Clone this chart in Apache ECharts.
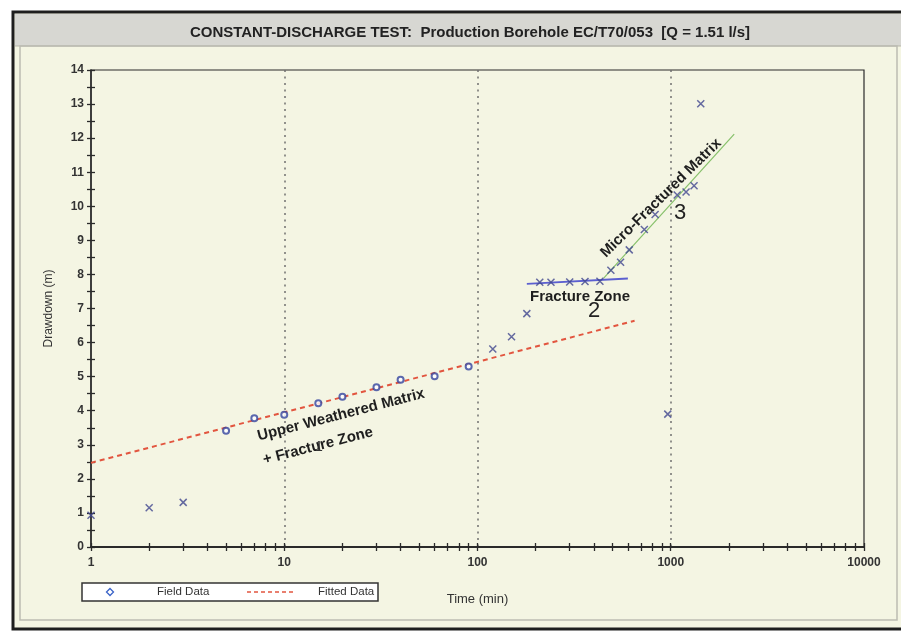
<!DOCTYPE html>
<html>
<head>
<meta charset="utf-8">
<title>Constant-discharge test</title>
<script src="https://cdn.jsdelivr.net/npm/echarts@6/dist/echarts.min.js"></script>
<style>
  html, body { margin: 0; padding: 0; background: #fff; }
  #chart { width: 901px; height: 639px; }
</style>
</head>
<body>
<div id="chart"></div>
<script>
// field data plotted as open circles (on the fitted line)
const circleTime = [5, 7, 10, 15, 20, 30, 40, 60, 90];
const circleDrawdown = [3.41, 3.78, 3.88, 4.22, 4.41, 4.69, 4.91, 5.01, 5.30];

// field data plotted as crosses
const crossTime = [1, 2, 3, 120, 150, 180, 210, 240, 300, 360, 430, 490, 550, 610, 730, 830, 965, 1080, 1200, 1320, 1430];
const crossDrawdown = [0.93, 1.15, 1.31, 5.81, 6.17, 6.85, 7.77, 7.77, 7.78, 7.79, 7.80, 8.12, 8.36, 8.72, 9.32, 9.76, 3.90, 10.33, 10.42, 10.60, 13.01];

// straight-line fits (end points)
const fittedTime = [1, 650];
const fittedDrawdown = [2.47, 6.64];
const fractureTime = [180, 600];
const fractureDrawdown = [7.72, 7.88];
const microTime = [450, 2130];
const microDrawdown = [7.89, 12.12];

// log axis ticks: 1..9 in every decade
const decades = [1, 10, 100, 1000];
const xTickValues = [];
decades.forEach(d => { for (let k = 1; k < 10; k++) xTickValues.push(d * k); });
xTickValues.push(10000);

const narrow = "'Liberation Sans Narrow', 'Arial Narrow', 'Liberation Sans', sans-serif";
const sans = "'Liberation Sans', Arial, sans-serif";
const ink = '#2a2a2a';

const toPairs = (xs, ys) => xs.map((x, i) => [x, ys[i]]);

const chart = echarts.init(document.getElementById('chart'));

const tickStyle = { color: ink, width: 1.3 };

// extra log axes that only carry the 2..9 minor ticks (outside and inside)
const tickAxis = inside => ({
  type: 'log', logBase: 10, min: 1, max: 10000, position: 'bottom',
  axisLine: { show: false },
  axisTick: { show: true, inside, length: 4, customValues: xTickValues, lineStyle: tickStyle },
  axisLabel: { show: false },
  splitLine: { show: false }
});

const centered = { textAlign: 'center', textVerticalAlign: 'middle', align: 'center', verticalAlign: 'middle' };
const leftMid = { textAlign: 'left', textVerticalAlign: 'middle', align: 'left', verticalAlign: 'middle' };

const option = {
  backgroundColor: '#fff',
  animation: false,
  title: {
    text: 'CONSTANT-DISCHARGE TEST:  Production Borehole EC/T70/053  [Q = 1.51 l/s]',
    left: 465,
    top: 20,
    textAlign: 'center',
    textStyle: { fontFamily: narrow, fontWeight: 'bold', fontSize: 15, color: '#222' }
  },
  legend: { show: false },
  grid: {
    left: 91, top: 70, width: 773, height: 477,
    show: true, borderColor: ink, borderWidth: 1.2, backgroundColor: 'transparent'
  },
  xAxis: [
    {
      type: 'log', logBase: 10, min: 1, max: 10000, position: 'bottom',
      axisLine: { lineStyle: { color: ink, width: 2 } },
      axisTick: { show: false },
      axisLabel: {
        fontFamily: narrow, fontWeight: 'bold', fontSize: 12, color: '#333', margin: 10,
        formatter: v => String(Math.round(v))
      },
      splitLine: { show: true, showMinLine: false, showMaxLine: false, lineStyle: { color: '#707070', type: [2, 4.5], width: 1.5 } },
      name: 'Time (min)', nameLocation: 'middle', nameGap: 46,
      nameTextStyle: { fontFamily: narrow, fontSize: 13, color: '#333' }
    },
    tickAxis(false),
    tickAxis(true)
  ],
  yAxis: [
    {
      type: 'value', min: 0, max: 14, interval: 1, position: 'left',
      axisLine: { show: true, lineStyle: { color: ink, width: 1.5 } },
      axisTick: { show: true, length: 4, lineStyle: tickStyle },
      minorTick: { show: true, splitNumber: 2, length: 4, lineStyle: tickStyle },
      axisLabel: { fontFamily: narrow, fontWeight: 'bold', fontSize: 12, color: '#333', margin: 7 },
      splitLine: { show: false },
      name: 'Drawdown (m)', nameLocation: 'middle', nameGap: 36,
      nameTextStyle: { fontFamily: narrow, fontSize: 12, color: '#333' }
    },
    {
      type: 'value', min: 0, max: 14, interval: 1, position: 'left',
      axisLine: { show: false },
      axisTick: { show: true, inside: true, length: 4, lineStyle: tickStyle },
      minorTick: { show: true, splitNumber: 2, length: 4, lineStyle: tickStyle },
      axisLabel: { show: false },
      splitLine: { show: false }
    }
  ],
  series: [
    {
      name: 'Fitted Data', type: 'line', symbol: 'none', z: 2,
      data: toPairs(fittedTime, fittedDrawdown),
      lineStyle: { color: '#e2553f', width: 2, type: [5, 4] }
    },
    {
      name: 'Fracture fit', type: 'line', symbol: 'none', z: 2,
      data: toPairs(fractureTime, fractureDrawdown),
      lineStyle: { color: '#5b5fd0', width: 1.8 }
    },
    {
      name: 'Matrix fit', type: 'line', symbol: 'none', z: 2,
      data: toPairs(microTime, microDrawdown),
      lineStyle: { color: '#86c06a', width: 1.2 }
    },
    {
      name: 'Field Data', type: 'scatter', symbol: 'emptyCircle', symbolSize: 6, z: 3,
      data: toPairs(circleTime, circleDrawdown),
      itemStyle: { color: '#33449e', borderWidth: 1.5 }
    },
    {
      name: 'Field Data (x)', type: 'scatter', symbol: 'path://M0,0L10,10M10,0L0,10', symbolSize: 7, z: 3,
      data: toPairs(crossTime, crossDrawdown),
      itemStyle: { color: '#40468f', borderColor: '#40468f', borderWidth: 1.5 }
    }
  ],
  graphic: [
    // page frame
    { type: 'rect', z: -10, shape: { x: 13, y: 12, width: 900, height: 617 }, style: { fill: '#f4f5e3', stroke: '#1e1e1e', lineWidth: 3 } },
    { type: 'rect', z: -9, shape: { x: 15, y: 14, width: 900, height: 32 }, style: { fill: '#d7d7d2' } },
    { type: 'line', z: -9, shape: { x1: 15, y1: 46, x2: 901, y2: 46 }, style: { stroke: '#b5b5aa', lineWidth: 1 } },
    { type: 'rect', z: -9, shape: { x: 20, y: 46, width: 877, height: 574 }, style: { fill: 'none', stroke: '#bcbcb2', lineWidth: 1.5 } },
    // legend box
    { type: 'rect', z: 40, shape: { x: 82, y: 583, width: 296, height: 18 }, style: { fill: '#fff', stroke: '#333', lineWidth: 1.5 } },
    { type: 'polygon', z: 41, shape: { points: [[110, 588.5], [113.5, 592], [110, 595.5], [106.5, 592]] }, style: { fill: 'none', stroke: '#3a63c8', lineWidth: 1.3 } },
    { type: 'text', z: 41, x: 157, y: 592, style: Object.assign({ text: 'Field Data', font: '11.5px ' + narrow, fill: '#333' }, leftMid) },
    { type: 'line', z: 41, shape: { x1: 247, y1: 592, x2: 294, y2: 592 }, style: { stroke: '#e2553f', lineWidth: 1.6, lineDash: [4, 3] } },
    { type: 'text', z: 41, x: 318, y: 592, style: Object.assign({ text: 'Fitted Data', font: '11.5px ' + narrow, fill: '#333' }, leftMid) },
    // zone annotations
    { type: 'text', z: 50, x: 341, y: 415, rotation: 0.253,
      style: Object.assign({ text: 'Upper Weathered Matrix', font: 'bold 15px ' + sans, fill: '#1e1e1e' }, centered) },
    { type: 'text', z: 50, x: 318, y: 446, rotation: 0.253,
      style: Object.assign({ text: '+ Fracture Zone', font: 'bold 15px ' + sans, fill: '#1e1e1e' }, centered) },
    { type: 'text', z: 51, x: 319, y: 447,
      style: Object.assign({ text: '1', font: '14px ' + narrow, fill: '#333' }, centered) },
    { type: 'text', z: 50, x: 580, y: 297,
      style: Object.assign({ text: 'Fracture Zone', font: 'bold 15px ' + sans, fill: '#1e1e1e' }, centered) },
    { type: 'text', z: 50, x: 594, y: 311,
      style: Object.assign({ text: '2', font: '22px ' + narrow, fill: '#222' }, centered) },
    { type: 'text', z: 50, x: 661, y: 198, rotation: 0.777,
      style: Object.assign({ text: 'Micro-Fractured Matrix', font: 'bold 15px ' + sans, fill: '#1e1e1e' }, centered) },
    { type: 'text', z: 50, x: 680, y: 213,
      style: Object.assign({ text: '3', font: '22px ' + narrow, fill: '#222' }, centered) }
  ]
};

chart.setOption(option);
window.addEventListener('resize', () => chart.resize());
</script>
</body>
</html>
